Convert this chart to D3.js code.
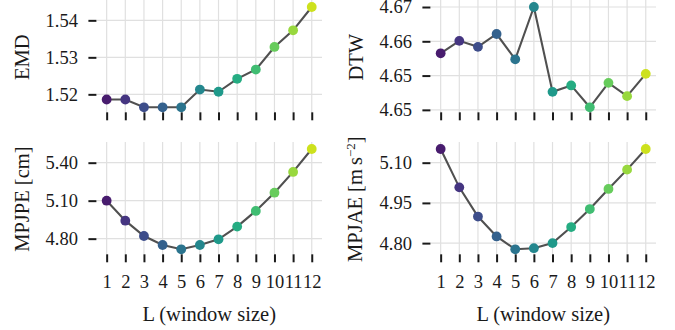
<!DOCTYPE html>
<html>
<head>
<meta charset="utf-8">
<script src="https://cdn.jsdelivr.net/npm/d3@7"></script>
<style>
  html, body { margin: 0; padding: 0; background: #fff; }
  svg { display: block; }
  svg text { font-family: "Liberation Serif", "DejaVu Serif", serif !important; fill: #1a1a1a; }
</style>
</head>
<body>
<svg id="chart" width="675" height="330"></svg>
<script>
// ---- data ----
const windowSizes = [1, 2, 3, 4, 5, 6, 7, 8, 9, 10, 11, 12];
const emd   = [1.5186, 1.5186, 1.5165, 1.5165, 1.5165, 1.5213, 1.5207, 1.5242, 1.5267, 1.5328, 1.5373, 1.5436];
const dtw   = [4.6592, 4.6621, 4.6607, 4.6637, 4.6578, 4.6700, 4.6502, 4.6517, 4.6466, 4.6523, 4.6492, 4.6544];
const mpjpe = [5.100, 4.942, 4.821, 4.750, 4.716, 4.750, 4.795, 4.895, 5.019, 5.163, 5.327, 5.508];
const mpjae = [5.151, 5.008, 4.899, 4.825, 4.777, 4.781, 4.800, 4.860, 4.927, 5.002, 5.074, 5.151];
const emdTicks   = [1.52, 1.53, 1.54];
const dtwTicks   = [4.646, 4.654, 4.662, 4.670];
const mpjpeTicks = [4.80, 5.10, 5.40];
const mpjaeTicks = [4.80, 4.95, 5.10];
const xLabel = "L (window size)";

const svg = d3.select("#chart");
const FONT = '"Liberation Serif", "DejaVu Serif", serif';

const panels = [
  { values: emd,   ticks: emdTicks,   label: [{t: "EMD"}],        left: 96.4,  right: 322, top: 2,   bottom: 112.3, labelX: 22,  showX: false },
  { values: dtw,   ticks: dtwTicks,   label: [{t: "DTW"}],        left: 430.4, right: 656, top: 2,   bottom: 112.3, labelX: 356, showX: false },
  { values: mpjpe, ticks: mpjpeTicks, label: [{t: "MPJPE [cm]"}], left: 96.4,  right: 322, top: 144, bottom: 254.3, labelX: 22,  showX: true },
  { values: mpjae, ticks: mpjaeTicks, label: [{t: "MPJAE [m\u2009s"}, {t: "\u22122", sup: true}, {t: "]"}], left: 430.4, right: 656, top: 144, bottom: 254.3, labelX: 355, showX: true }
];

const color = i => d3.interpolateViridis((i + 1) / 13);

panels.forEach(p => {
  const xPad = (d3.max(windowSizes) - d3.min(windowSizes)) * 0.05;
  const x = d3.scaleLinear()
    .domain([d3.min(windowSizes) - xPad, d3.max(windowSizes) + xPad])
    .range([p.left, p.right]);
  const [vmin, vmax] = d3.extent(p.values);
  const yPad = (vmax - vmin) * 0.05;
  const y = d3.scaleLinear().domain([vmin - yPad, vmax + yPad]).range([p.bottom, p.top]);

  const g = svg.append("g");

  // grid
  g.append("g").selectAll("line").data(windowSizes).join("line")
    .attr("x1", d => x(d)).attr("x2", d => x(d))
    .attr("y1", p.top - 2).attr("y2", p.bottom)
    .attr("stroke", "#e0e0e0").attr("stroke-width", 1.2);
  g.append("g").selectAll("line").data(p.ticks).join("line")
    .attr("x1", p.left).attr("x2", p.right)
    .attr("y1", d => y(d)).attr("y2", d => y(d))
    .attr("stroke", "#e0e0e0").attr("stroke-width", 1.2);

  // y axis (spine hidden)
  const yAxis = d3.axisLeft(y).tickValues(p.ticks).tickFormat(d3.format(".2f"))
    .tickSize(8).tickPadding(10.5);
  const ya = g.append("g").attr("transform", `translate(${p.left},0)`).call(yAxis)
    .attr("font-family", FONT);
  ya.select(".domain").remove();
  ya.selectAll(".tick line").attr("stroke", "#1a1a1a").attr("stroke-width", 2);
  ya.selectAll(".tick text").attr("font-size", 18.5).style("font-family", FONT).attr("fill", "#1a1a1a");

  // x axis
  const xAxis = d3.axisBottom(x).tickValues(windowSizes).tickFormat(d => p.showX ? d : "")
    .tickSize(8).tickPadding(13);
  const xa = g.append("g").attr("transform", `translate(0,${p.bottom})`).call(xAxis)
    .attr("font-family", FONT);
  xa.select(".domain").remove();
  xa.selectAll(".tick line").attr("stroke", "#1a1a1a").attr("stroke-width", 2);
  xa.selectAll(".tick text").attr("font-size", 18.5).style("font-family", FONT).attr("fill", "#1a1a1a");

  // line
  const line = d3.line().x((d, i) => x(windowSizes[i])).y(d => y(d));
  g.append("path").datum(p.values).attr("d", line)
    .attr("fill", "none").attr("stroke", "#505050").attr("stroke-width", 2.1);

  // points
  g.append("g").selectAll("circle").data(p.values).join("circle")
    .attr("cx", (d, i) => x(windowSizes[i])).attr("cy", d => y(d))
    .attr("r", 4.9).attr("fill", (d, i) => color(i));

  // y label
  const cy = (p.top + p.bottom) / 2;
  const yl = g.append("text")
    .attr("transform", `translate(${p.labelX + 7},${cy}) rotate(-90)`)
    .attr("text-anchor", "middle").attr("font-size", 20.5).style("font-family", FONT);
  p.label.forEach(s => {
    const ts = yl.append("tspan").text(s.t);
    if (s.sup) ts.attr("baseline-shift", "super").attr("font-size", 13);
  });

  // x label
  if (p.showX) {
    g.append("text").attr("x", (p.left + p.right) / 2).attr("y", 321)
      .attr("text-anchor", "middle").attr("font-size", 20.5).style("font-family", FONT).text(xLabel);
  }
});
</script>
</body>
</html>
